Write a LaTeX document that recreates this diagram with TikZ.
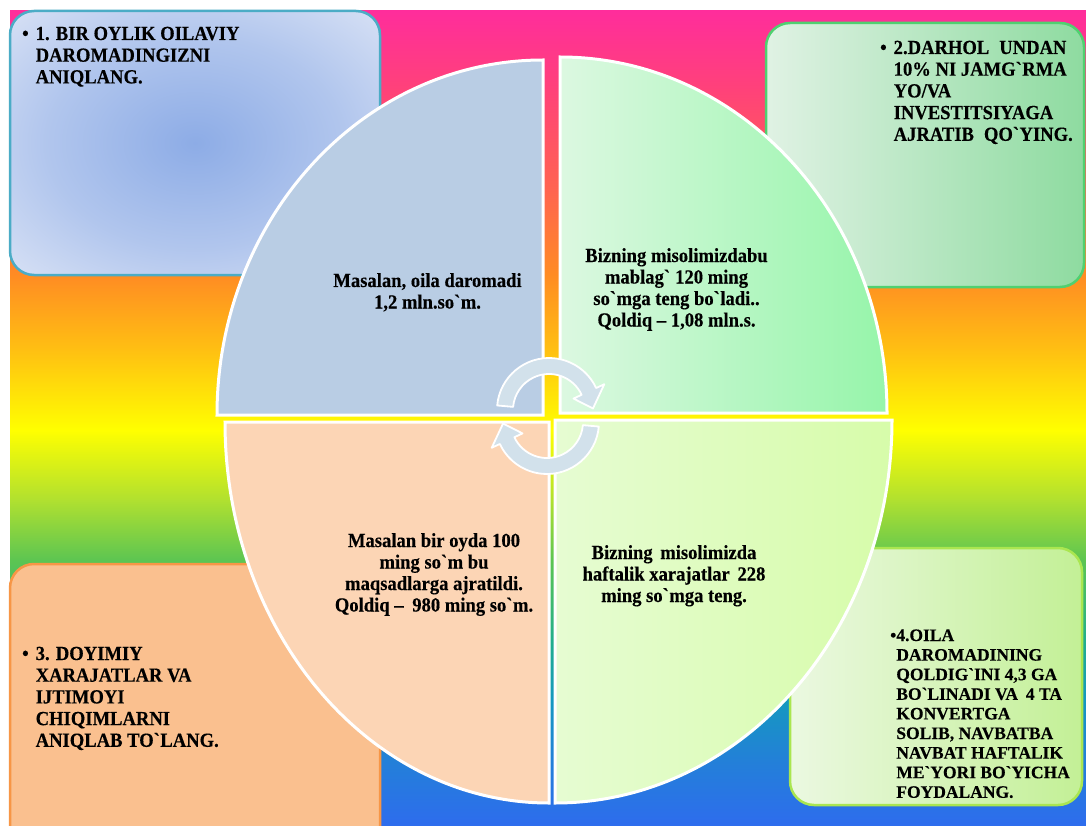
\documentclass[tikz,border=0pt]{standalone}
\usepackage{fontspec}
\setmainfont{Liberation Serif}
\newfontfamily\condfont[FakeStretch=0.93, BoldFeatures={FakeBold=0.3}]{Liberation Serif}
\newfontfamily\plainfont[BoldFeatures={FakeBold=0.3}]{Liberation Serif}
\usetikzlibrary{calc}
\newcommand\btick{\textasciigrave}
\definecolor{bgA}{HTML}{FF2D9B}
\definecolor{bgB}{HTML}{FF4279}
\definecolor{bgC}{HTML}{FF6450}
\definecolor{bgD}{HTML}{FF8C23}
\definecolor{bgE}{HTML}{FFC012}
\definecolor{bgF}{HTML}{FFFF00}
\definecolor{bgG}{HTML}{B0E030}
\definecolor{bgH}{HTML}{5CC552}
\definecolor{bgI}{HTML}{22AE8C}
\definecolor{bgJ}{HTML}{1598C0}
\definecolor{bgK}{HTML}{2380D8}
\definecolor{bgL}{HTML}{2E6CEE}
\definecolor{boxAline}{HTML}{4BACC6}
\definecolor{boxAin}{HTML}{8DACE6}
\definecolor{boxAout}{HTML}{DDE5F6}
\definecolor{boxBline}{HTML}{50D070}
\definecolor{boxBl}{HTML}{E0F2E4}
\definecolor{boxBr}{HTML}{8EDBA0}
\definecolor{boxCline}{HTML}{F79646}
\definecolor{boxCfill}{HTML}{FAC08F}
\definecolor{boxDline}{HTML}{AAE650}
\definecolor{boxDl}{HTML}{EBF8E1}
\definecolor{boxDr}{HTML}{C3F096}
\definecolor{qA}{HTML}{B9CDE4}
\definecolor{qBl}{HTML}{DCF8E1}
\definecolor{qBr}{HTML}{96F5AA}
\definecolor{qC}{HTML}{FCD5B5}
\definecolor{qDl}{HTML}{E6FCD2}
\definecolor{qDr}{HTML}{D7FCAA}
\definecolor{arrowfill}{HTML}{D2E1EB}
\colorlet{boxAmid}{boxAin!55!boxAout}
\pgfdeclareradialshading{glowA}{\pgfpoint{0bp}{0bp}}{color(0bp)=(boxAin); color(20bp)=(boxAmid); color(38bp)=(boxAout); color(50bp)=(boxAout)}
\tikzset{
  quad/.style={draw=white, line width=3pt, line join=miter},
  roundbox/.style={rounded corners=24pt, line width=2.5pt},
  carrow/.style={fill=arrowfill, draw=white, line width=1.8pt, line join=round},
  ctext/.style={inner sep=0pt, anchor=base, font=\condfont\bfseries\fontsize{20}{21.5}\selectfont},
  btext/.style={inner sep=0pt, anchor=base west, font=\condfont\bfseries\fontsize{20}{21.7}\selectfont},
  dtext/.style={inner sep=0pt, anchor=base west, font=\plainfont\bfseries\fontsize{17.5}{19.6}\selectfont}
}
\begin{document}
\begin{tikzpicture}[x=1pt,y=-1pt]
\useasboundingbox (0,0) rectangle (1086,826);
\clip (0,0) rectangle (1086,826);
\fill[white] (0,0) rectangle (1086,826);
% rainbow background
\foreach \ya/\yb/\ca/\cb in {11/90/bgA/bgB, 90/190/bgB/bgC, 190/275/bgC/bgD, 275/350/bgD/bgE, 350/430/bgE/bgF, 430/500/bgF/bgG, 500/560/bgG/bgH, 560/640/bgH/bgI, 640/700/bgI/bgJ, 700/760/bgJ/bgK, 760/826/bgK/bgL}
  \fill[top color=\ca, bottom color=\cb] (10,\ya) rectangle (1086,\yb+0.7);
% corner boxes
\draw[roundbox, draw=boxAline, shading=glowA] (10,11) rectangle (380,275);
\draw[roundbox, draw=boxBline, left color=boxBl, right color=boxBr] (766,23) rectangle (1084,287);
\draw[roundbox, draw=boxCline, fill=boxCfill] (10,564) rectangle (380,850);
\draw[roundbox, draw=boxDline, left color=boxDl, right color=boxDr] (790,548) rectangle (1082,805);
% quadrants
\draw[quad, fill=qA] (543,415) -- (217,415) arc[start angle=180, end angle=270, x radius=326, y radius=355] -- cycle;
\draw[quad, left color=qBl, right color=qBr] (560,413) -- (560,57) arc[start angle=270, end angle=360, x radius=327, y radius=356] -- cycle;
\draw[quad, fill=qC] (549,422) -- (225,422) arc[start angle=180, end angle=90, x radius=324, y radius=381] -- cycle;
\draw[quad, left color=qDl, right color=qDr] (555,420) -- (892,420) arc[start angle=0, end angle=90, x radius=337, y radius=383] -- cycle;
% circular arrows
\coordinate (ca) at (549,410);
\coordinate (cb) at (547,422);
\draw[carrow] ($(ca)+(-175:52)$) arc[start angle=-175, end angle=-25, radius=52]
  -- ($(ca)+(-25:61)$) -- ($(ca)+(-2:44)$) -- ($(ca)+(-25:27)$) -- ($(ca)+(-25:36)$)
  arc[start angle=-25, end angle=-175, radius=36] -- cycle;
\draw[carrow] ($(cb)+(5:52)$) arc[start angle=5, end angle=155, radius=52]
  -- ($(cb)+(155:61)$) -- ($(cb)+(178:44)$) -- ($(cb)+(155:27)$) -- ($(cb)+(155:36)$)
  arc[start angle=155, end angle=5, radius=36] -- cycle;
% quadrant texts
\node[ctext] (t1) at (427.5,287) {\begin{tabular}[t]{@{}c@{}}Masalan, oila daromadi\\1,2 mln.so\btick m.\end{tabular}};
\node[ctext] (t2) at (676.5,262) {\begin{tabular}[t]{@{}c@{}}Bizning misolimizdabu\\mablag\btick{} 120 ming\\so\btick mga teng bo\btick ladi..\\Qoldiq – 1,08 mln.s.\end{tabular}};
\node[ctext] (t3) at (434,547) {\begin{tabular}[t]{@{}c@{}}Masalan bir oyda 100\\ming so\btick m bu\\maqsadlarga ajratildi.\\Qoldiq –\hspace{0.2em} 980 ming so\btick m.\end{tabular}};
\node[ctext] (t4) at (674,559) {\begin{tabular}[t]{@{}c@{}}Bizning\hspace{0.15em} misolimizda\\haftalik xarajatlar\hspace{0.15em} 228\\ming so\btick mga teng.\end{tabular}};
% box texts
\node[btext] (b1) at (22,40) {\begin{tabular}[t]{@{}l@{\hspace{7pt}}l@{}}•&1. BIR OYLIK OILAVIY\\&DAROMADINGIZNI\\&ANIQLANG.\end{tabular}};
\node[btext] (b2) at (880,54) {\begin{tabular}[t]{@{}l@{\hspace{7pt}}l@{}}•&2.DARHOL\hspace{0.5em}UNDAN\\&10\% NI JAMG\btick RMA\\&YO/VA\\&INVESTITSIYAGA\\&AJRATIB\hspace{0.5em}QO\btick YING.\end{tabular}};
\node[btext] (b3) at (22,660) {\begin{tabular}[t]{@{}l@{\hspace{7pt}}l@{}}•&3. DOYIMIY\\&XARAJATLAR VA\\&IJTIMOYI\\&CHIQIMLARNI\\&ANIQLAB TO\btick LANG.\end{tabular}};
\node[dtext] (b4) at (890,641) {\begin{tabular}[t]{@{}l@{}l@{}}•&4.OILA\\&DAROMADINING\\&QOLDIG\btick INI 4,3 GA\\&BO\btick LINADI VA\hspace{0.2em} 4 TA\\&KONVERTGA\\&SOLIB, NAVBATBA\\&NAVBAT HAFTALIK\\&ME\btick YORI BO\btick YICHA\\&FOYDALANG.\end{tabular}};
\end{tikzpicture}
\end{document}
